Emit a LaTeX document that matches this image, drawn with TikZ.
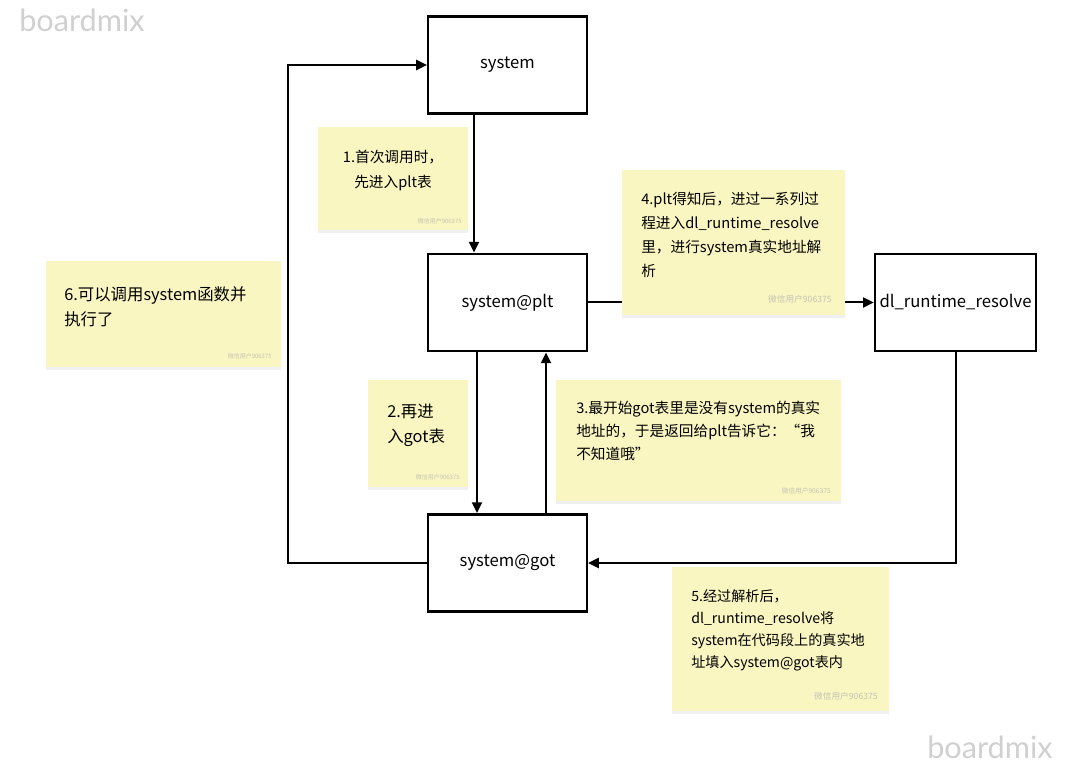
\documentclass[tikz,border=0pt]{standalone}
\usepackage{fontspec}
\setmainfont{Noto Sans CJK SC}
\newfontfamily\brandfont{Lato}
\usetikzlibrary{arrows.meta,positioning,calc,shadows}
\definecolor{notefill}{RGB}{250,246,194}
\definecolor{markgray}{RGB}{208,208,208}
\definecolor{usergray}{RGB}{196,196,178}

\begin{document}
\begin{tikzpicture}[x=.75pt,y=-.75pt,box/.style={draw=black,line width=1.9pt,minimum width=119pt,minimum height=73pt,font=\fontsize{12.5}{14}\selectfont},arr/.style={-{Triangle[length=8pt,width=7.5pt]},line width=1.5pt},note/.style={fill=notefill,inner sep=0pt,drop shadow={shadow xshift=0pt,shadow yshift=-2.5pt,opacity=.12}},notetext/.style={inner sep=0pt,align=left,font=\fontsize{11}{17.5}\selectfont,anchor=north west},bignote/.style={notetext,font=\fontsize{12.3}{18.7}\selectfont},user/.style={text=usergray,inner sep=0pt,anchor=south east},brand/.style={text=markgray,font=\brandfont\fontsize{23}{24}\selectfont}]
\useasboundingbox (0,0) rectangle (1071,766);

% Boxes of the lookup chain
\node[box] (system) at (507.5,65) {system};
\node[box] (plt) at (507.5,302.5) {system@plt};
\node[box] (got) at (507.5,563) {system@got};
\node[box] (resolve) at (955.5,302.5) {dl\_runtime\_resolve};
\coordinate (back) at (288,563);

\draw[arr] ($(system.south)+(-33.5,0)$)--($(plt.north)+(-33.5,0)$);
\draw[arr] ($(plt.south)+(-30.5,0)$)--($(got.north)+(-30.5,0)$);
\draw[arr] ($(got.north)+(38.5,0)$)--($(plt.south)+(38.5,0)$);
\draw[arr] (plt.east)--(resolve.west);
\draw[arr] (resolve.south)--(resolve.south |- got.east)--(got.east);
\draw[arr] (got.west)--(back)|-(system.west);

% Sticky notes lie on top of the connectors
\node[note,minimum width=112.5pt,minimum height=77.25pt] (n1) at (393,178.5) {};
\node[note,minimum width=167.25pt,minimum height=108.75pt] (n4) at (733.5,242.5) {};
\node[note,minimum width=176.25pt,minimum height=79.5pt] (n6) at (163.5,314) {};
\node[note,minimum width=75pt,minimum height=80.25pt] (n2) at (418,433.5) {};
\node[note,minimum width=213.75pt,minimum height=90.75pt] (n3) at (698.5,440.5) {};
\node[note,minimum width=162.75pt,minimum height=108pt] (n5) at (780.5,639) {};

\node[notetext,align=center,anchor=center,font=\fontsize{11}{18.5}\selectfont] (t1) at (393,170.5) {1.首次调用时，\\先进入plt表};
\node[notetext,font=\fontsize{11}{18}\selectfont] (t4) at (641,192) {4.plt得知后，进过一系列过\\程进入dl\_runtime\_resolve\\里，进行system真实地址解\\析};
\node[bignote] (t6) at (64,286) {6.可以调用system函数并\\执行了};
\node[bignote] (t2) at (387,404) {2.再进\\入got表};
\node[notetext,font=\fontsize{11}{17}\selectfont] (t3) at (576,401) {3.最开始got表里是没有system的真实\\地址的，于是返回给plt告诉它：“我\\不知道哦”};
\node[notetext,font=\fontsize{10.6}{16.6}\selectfont] (t5) at (691,589) {5.经过解析后，\\dl\_runtime\_resolve将\\system在代码段上的真实地\\址填入system@got表内};

\foreach \nm/\xx/\yy/\sz in {u1/462/224/4.5,u4/832/304/6.5,u6/272/359/4.5,u2/460/480/4.5,u3/831/494/5,u5/878/701/6.5}
  \node[user,font=\fontsize{\sz}{\sz}\selectfont] (\nm) at (\xx,\yy) {微信用户906375};

\node[brand] (mark1) at (82,20) {boardmix};
\node[brand] (mark2) at (990,747) {boardmix};
\end{tikzpicture}
\end{document}
